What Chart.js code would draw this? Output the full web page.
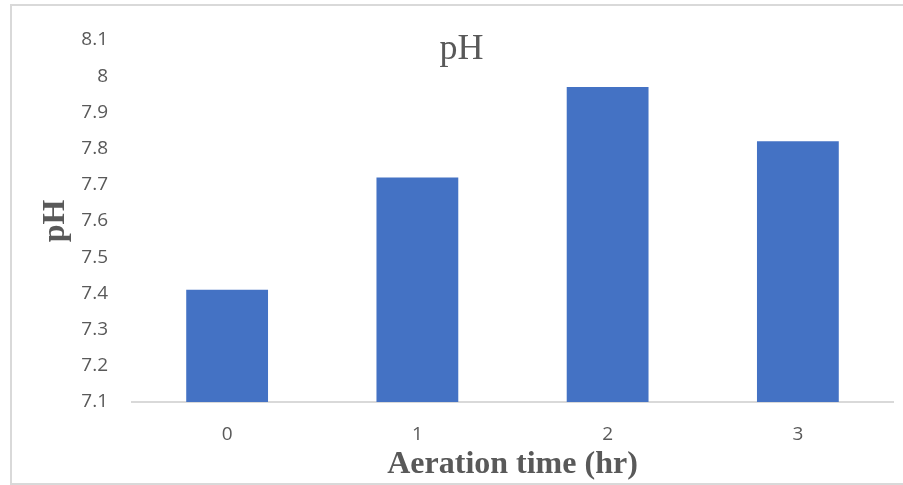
<!DOCTYPE html>
<html>
<head>
<meta charset="utf-8">
<script src="https://cdn.jsdelivr.net/npm/chart.js@4.4.1/dist/chart.umd.min.js"></script>
<style>
  html, body { margin: 0; padding: 0; background: #ffffff; }
  #wrap { position: relative; width: 903px; height: 485px; overflow: hidden; }
  #frame {
    position: absolute; left: 10px; top: 4px; width: 1000px; height: 481px;
    border: 2px solid #d9d9d9; box-sizing: border-box; pointer-events: none;
  }
  canvas { position: absolute; left: 0; top: 0; }
</style>
</head>
<body>
<div id="wrap">
  <canvas id="c" width="903" height="485"></canvas>
  <div id="frame"></div>
</div>
<script>
// Aeration time (hours) and measured pH
const categories = ['0', '1', '2', '3'];
const phValues = [7.41, 7.72, 7.97, 7.82];
const yMin = 7.1;
const yMax = 8.1;
const yStep = 0.1;

const chartTitle = 'pH';
const xTitle = 'Aeration time (hr)';
const yTitle = 'pH';

const textGrey = '#595959';

// Title drawn inside the top of the plot area
const titlePlugin = {
  id: 'innerTitle',
  afterDraw(chart) {
    const ctx = chart.ctx;
    const area = chart.chartArea;
    ctx.save();
    ctx.font = '36px "Liberation Serif", "Times New Roman", serif';
    ctx.fillStyle = textGrey;
    ctx.textAlign = 'center';
    ctx.textBaseline = 'alphabetic';
    ctx.fillText(chartTitle, (area.left + area.right) / 2 - 51, 59);
    ctx.restore();
  }
};

new Chart(document.getElementById('c'), {
  type: 'bar',
  data: {
    labels: categories,
    datasets: [{
      label: 'pH',
      data: phValues,
      backgroundColor: '#4472C4',
      borderWidth: 0,
      barPercentage: 0.43,
      categoryPercentage: 1.0
    }]
  },
  options: {
    responsive: false,
    animation: false,
    layout: { padding: { top: 40, right: 10, bottom: 0, left: 0 } },
    plugins: {
      legend: { display: false },
      title: { display: false },
      tooltip: { enabled: false }
    },
    scales: {
      x: {
        z: 1,
        grid: { display: false },
        border: { display: true, color: '#d9d9d9', width: 2 },
        ticks: {
          color: textGrey,
          font: { family: '"Open Sans", "Liberation Sans", sans-serif', size: 19 },
          padding: 13
        },
        title: {
          display: true,
          text: xTitle,
          color: textGrey,
          font: { family: '"Liberation Serif", "Times New Roman", serif', size: 32, weight: 'bold' },
          padding: { top: 0, bottom: 1 }
        },
        afterFit(scale) { scale.height = 83; }
      },
      y: {
        min: yMin,
        max: yMax,
        grid: { display: false },
        border: { display: false },
        ticks: {
          stepSize: yStep,
          color: textGrey,
          font: { family: '"Open Sans", "Liberation Sans", sans-serif', size: 19 },
          padding: 16,
          callback: (v) => parseFloat(v.toFixed(1)).toString()
        },
        title: {
          display: true,
          text: yTitle,
          color: textGrey,
          font: { family: '"Liberation Serif", "Times New Roman", serif', size: 32, weight: 'bold' },
          padding: { top: 37, bottom: 0 }
        },
        afterFit(scale) { scale.width = 132; }
      }
    }
  },
  plugins: [titlePlugin]
});
</script>
</body>
</html>
